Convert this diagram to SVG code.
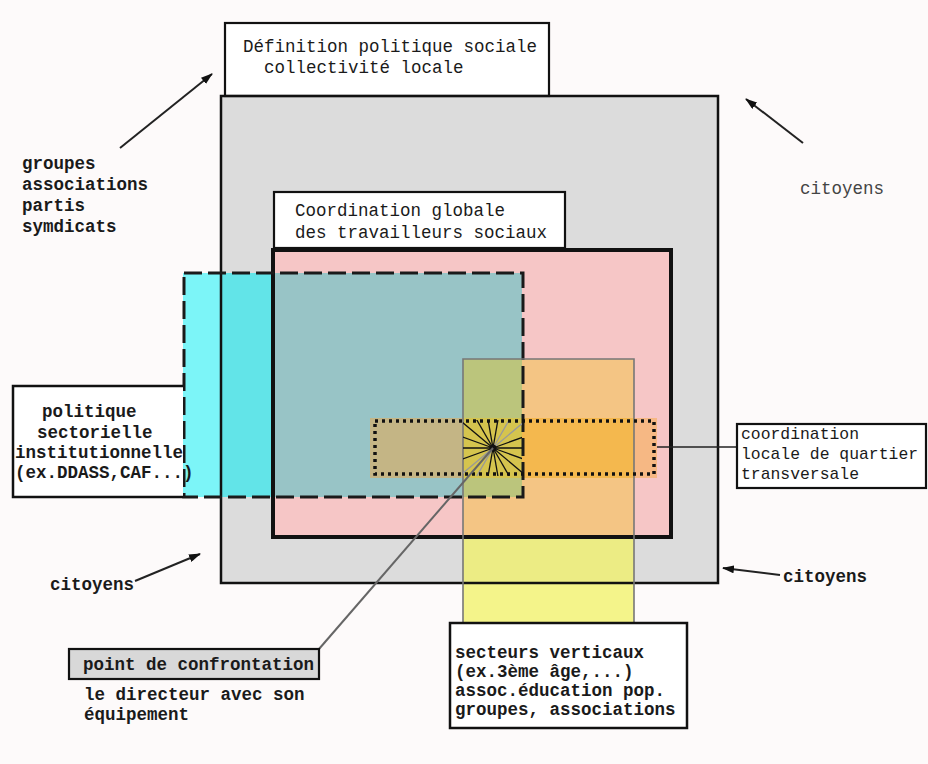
<svg xmlns="http://www.w3.org/2000/svg" width="928" height="764" viewBox="0 0 928 764">
<defs>
<style>
.t{font-family:"Liberation Mono","DejaVu Sans Mono",monospace;font-size:17.5px;fill:#1a1a1a}
.s{font-size:16.4px}
.b{font-weight:bold}
.box{stroke:#111;stroke-width:2.2}
.ray{stroke:#111;stroke-width:1.3}
.rayg{stroke:#999;stroke-width:1.3}
.arr{stroke:#222;stroke-width:2;fill:none;marker-end:url(#ah)}
</style>
<marker id="ah" viewBox="0 0 12 8" refX="11" refY="4" markerWidth="12" markerHeight="8" markerUnits="userSpaceOnUse" orient="auto">
<path d="M0,0 L12,4 L0,8 z" fill="#111"/>
</marker>
<clipPath id="starclip"><rect x="463" y="420" width="59" height="56"/></clipPath>
</defs>
<rect width="928" height="764" fill="#fdfafa"/>

<g id="collectivite">
<rect x="221" y="96" width="497" height="487" fill="#dcdcdc"/>
</g>
<g id="definition">
<rect x="225" y="23" width="324" height="73" fill="#ffffff" class="box"/>
<text class="t" x="243" y="52">Définition politique sociale</text>
<text class="t" x="264" y="73">collectivité locale</text>
</g>
<g id="coordination-globale">
<rect x="274" y="192" width="291" height="56" fill="#ffffff" class="box"/>
<text class="t" x="295" y="216">Coordination globale</text>
<text class="t" x="295" y="238">des travailleurs sociaux</text>
</g>
<g id="travailleurs">
<rect x="273" y="250" width="398" height="287" fill="#f6c6c6"/>
</g>
<g id="sectorielle-fill">
<rect x="183" y="273" width="38" height="224" fill="#7cf5f8"/>
<rect x="221" y="273" width="52" height="224" fill="#62e4e8"/>
<rect x="273" y="273" width="249" height="224" fill="#98c4c6"/>
</g>
<g id="verticaux-fill">
<rect x="463" y="359" width="171" height="178" fill="#f4c584"/>
<rect x="463" y="359" width="59" height="138" fill="#bbc57c"/>
<rect x="463" y="537" width="171" height="46" fill="#ecec84"/>
<rect x="463" y="583" width="171" height="40" fill="#f4f48a"/>
</g>
<g id="locale-fill">
<rect x="370" y="418" width="93" height="60" fill="#c4b585"/>
<rect x="463" y="418" width="59" height="60" fill="#d5c44e"/>
<rect x="522" y="418" width="112" height="60" fill="#f4b84e"/>
<rect x="634" y="418" width="23" height="60" fill="#f6b884"/>
</g>

<g id="borders">
<rect x="221" y="96" width="497" height="487" fill="none" stroke="#111" stroke-width="2.5"/>
<rect x="273" y="250" width="398" height="287" fill="none" stroke="#111" stroke-width="4"/>
<rect x="184" y="273" width="339" height="224" fill="none" stroke="#1a1a1a" stroke-width="3" stroke-dasharray="18 6"/>
<path d="M463,623 V359 H634 V623" fill="none" stroke="#777" stroke-width="1.6"/>
</g>

<g id="point-star" clip-path="url(#starclip)">
<line class="ray" x1="493" y1="448" x2="553" y2="448"/>
<line class="ray" x1="493" y1="448" x2="549.4" y2="468.5"/>
<line class="ray" x1="493" y1="448" x2="539" y2="486.6"/>
<line class="ray" x1="493" y1="448" x2="523" y2="500"/>
<line class="ray" x1="493" y1="448" x2="503.4" y2="507.1"/>
<line class="ray" x1="493" y1="448" x2="482.6" y2="507.1"/>
<line class="rayg" x1="493" y1="448" x2="463" y2="500"/>
<line class="rayg" x1="493" y1="448" x2="447" y2="486.6"/>
<line class="ray" x1="493" y1="448" x2="436.6" y2="468.5"/>
<line class="ray" x1="493" y1="448" x2="433" y2="448"/>
<line class="ray" x1="493" y1="448" x2="436.6" y2="427.5"/>
<line class="ray" x1="493" y1="448" x2="447" y2="409.4"/>
<line class="ray" x1="493" y1="448" x2="463" y2="396"/>
<line class="ray" x1="493" y1="448" x2="482.6" y2="388.9"/>
<line class="ray" x1="493" y1="448" x2="503.4" y2="388.9"/>
<line class="rayg" x1="493" y1="448" x2="523" y2="396"/>
<line class="rayg" x1="493" y1="448" x2="539" y2="409.4"/>
<line class="ray" x1="493" y1="448" x2="549.4" y2="427.5"/>
</g>

<g id="locale-border">
<rect x="375" y="421" width="279" height="53" fill="none" stroke="#111" stroke-width="3.5" stroke-dasharray="3 4"/>
<circle cx="493" cy="448" r="3.5" fill="#111"/>
</g>

<g id="connectors">
<line x1="493" y1="448" x2="319" y2="649" stroke="#666" stroke-width="2"/>
<line x1="657" y1="447" x2="737" y2="447" stroke="#222" stroke-width="1.5"/>
<line class="arr" x1="120" y1="148" x2="212" y2="74"/>
<line class="arr" x1="803" y1="143" x2="746" y2="99"/>
<line class="arr" x1="135" y1="581" x2="200" y2="554"/>
<line class="arr" x1="780" y1="575" x2="723" y2="568"/>
</g>

<g id="politique">
<path d="M183,386 H13 V497 H183" fill="#ffffff" stroke="#111" stroke-width="2.5"/>
<text class="t b" x="42" y="417">politique</text>
<text class="t b" x="37" y="438">sectorielle</text>
<text class="t b" x="15" y="458">institutionnelle</text>
<text class="t b" x="15" y="478">(ex.DDASS,CAF...)</text>
</g>

<g id="coordination-locale">
<rect x="737" y="424" width="189" height="64" fill="#ffffff" class="box"/>
<text class="t s" x="741" y="439">coordination</text>
<text class="t s" x="741" y="459">locale de quartier</text>
<text class="t s" x="741" y="479">transversale</text>
</g>

<g id="secteurs">
<rect x="450" y="623" width="237" height="105" fill="#ffffff" stroke="#111" stroke-width="2.5"/>
<text class="t b" x="455" y="658">secteurs verticaux</text>
<text class="t b" x="455" y="677">(ex.3ème âge,...)</text>
<text class="t b" x="455" y="696">assoc.éducation pop.</text>
<text class="t b" x="455" y="715">groupes, associations</text>
</g>

<g id="confrontation">
<rect x="69" y="649" width="250" height="30" fill="#d8d8d8" class="box"/>
<text class="t b" x="83" y="670">point de confrontation</text>
<text class="t b" x="84" y="700">le directeur avec son</text>
<text class="t b" x="84" y="720">équipement</text>
</g>

<g id="labels">
<text class="t b" x="22" y="169">groupes</text>
<text class="t b" x="22" y="190">associations</text>
<text class="t b" x="22" y="211">partis</text>
<text class="t b" x="22" y="232">symdicats</text>
<text class="t" x="800" y="194" style="fill:#444">citoyens</text>
<text class="t b" x="50" y="590">citoyens</text>
<text class="t b" x="783" y="582">citoyens</text>
</g>
</svg>
